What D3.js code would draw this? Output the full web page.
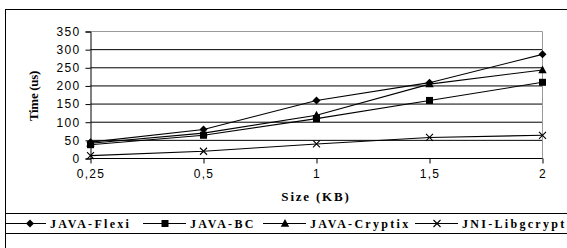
<!DOCTYPE html>
<html>
<head>
<meta charset="utf-8">
<script src="https://cdn.jsdelivr.net/npm/d3@7"></script>
<style>
    body { margin: 0; background: #fff; }
    svg { display: block; }
</style>
</head>
<body>
<svg id="chart" width="567" height="248"></svg>
<script>
// data
var sizes = ['0,25', '0,5', '1', '1,5', '2'];
var yTicks = [0, 50, 100, 150, 200, 250, 300, 350];
var flexi = [45, 80, 160, 209, 287];
var bc = [38, 64, 110, 160, 210];
var cryptix = [42, 70, 119, 205, 244];
var jni = [8, 20, 40, 58, 64];

var series = [
    { name: 'JAVA-Flexi', values: flexi, marker: 'diamond' },
    { name: 'JAVA-BC', values: bc, marker: 'square' },
    { name: 'JAVA-Cryptix', values: cryptix, marker: 'triangle' },
    { name: 'JNI-Libgcrypt', values: jni, marker: 'cross' }
];

var svg = d3.select('#chart');
var plot = { left: 90.5, right: 542.5, top: 31.5, bottom: 158.5 };

var x = d3.scalePoint().domain(sizes).range([plot.left, plot.right]);
var y = d3.scaleLinear().domain([0, 350]).range([plot.bottom, plot.top]);

// outer frame, cut by the picture on the right and bottom
svg.append('rect')
    .attr('x', 5.5).attr('y', 9.5)
    .attr('width', 600).attr('height', 300)
    .attr('fill', 'none').attr('stroke', '#000');

// gridlines
svg.append('g')
    .selectAll('line')
    .data(yTicks.filter(function (d) { return d > 0 && d < 350; }))
    .enter()
    .append('line')
    .attr('x1', plot.left).attr('x2', plot.right)
    .attr('y1', function (d) { return y(d); })
    .attr('y2', function (d) { return y(d); })
    .attr('stroke', '#000');

// plot area border (top and right are gray)
svg.append('path')
    .attr('d', 'M' + plot.left + ',' + plot.top + 'H' + plot.right + 'V' + plot.bottom)
    .attr('fill', 'none')
    .attr('stroke', '#999');

var yAxis = svg.append('g')
    .attr('transform', 'translate(' + plot.left + ',0)')
    .call(d3.axisLeft(y).tickValues(yTicks).tickSize(5).tickPadding(5));
var xAxis = svg.append('g')
    .attr('transform', 'translate(0,' + plot.bottom + ')')
    .call(d3.axisBottom(x).tickSize(5).tickPadding(6));

[yAxis, xAxis].forEach(function (ax) {
    ax.select('.domain').attr('stroke', '#000');
    ax.selectAll('.tick line').attr('stroke', '#000');
    ax.selectAll('text')
        .attr('fill', '#000')
        .style('font-family', '"Liberation Sans", Arial, sans-serif')
        .style('font-size', '12px')
        .style('letter-spacing', '1.3px');
});
xAxis.select('.domain').attr('d', 'M' + plot.left + ',0H' + plot.right);

// axis titles
svg.append('text')
    .text('Size (KB)')
    .attr('x', 316).attr('y', 201)
    .attr('text-anchor', 'middle')
    .style('font-family', '"Liberation Serif", "Times New Roman", serif')
    .style('font-weight', 'bold')
    .style('font-size', '13px')
    .style('letter-spacing', '1.8px');

svg.append('text')
    .text('Time (us)')
    .attr('transform', 'translate(38,96) rotate(-90)')
    .attr('text-anchor', 'middle')
    .style('font-family', '"Liberation Serif", "Times New Roman", serif')
    .style('font-weight', 'bold')
    .style('font-size', '13px')
    .style('letter-spacing', '-0.3px');

function markerPath(kind) {
    if (kind == 'diamond')
        return 'M0,-4L4,0L0,4L-4,0Z';
    if (kind == 'square')
        return 'M-3.5,-3.5H3.5V3.5H-3.5Z';
    if (kind == 'triangle')
        return 'M0,-4.5L4.2,3.2H-4.2Z';
    return 'M-3.5,-3.5L3.5,3.5M-3.5,3.5L3.5,-3.5';
}

function drawMarker(g, kind) {
    g.append('path')
        .attr('d', markerPath(kind))
        .attr('fill', kind == 'cross' ? 'none' : '#000')
        .attr('stroke', kind == 'cross' ? '#000' : 'none')
        .attr('stroke-width', 1.1);
}

var line = d3.line()
    .x(function (d, i) { return x(sizes[i]); })
    .y(function (d) { return y(d); });

var sg = svg.selectAll('g.series')
    .data(series)
    .enter()
    .append('g')
    .attr('class', 'series');

sg.append('path')
    .attr('d', function (d) { return line(d.values); })
    .attr('fill', 'none')
    .attr('stroke', '#000')
    .attr('stroke-width', 1.1);

sg.each(function (s) {
    var self = d3.select(this);
    s.values.forEach(function (v, i) {
        var m = self.append('g')
            .attr('transform', 'translate(' + x(sizes[i]) + ',' + y(v) + ')');
        drawMarker(m, s.marker);
    });
});

// legend box
svg.append('rect')
    .attr('x', 5.5).attr('y', 213.5)
    .attr('width', 600).attr('height', 20)
    .attr('fill', 'none').attr('stroke', '#000');

// start of each legend label
var legendText = [50, 190, 310, 462];
var lg = svg.selectAll('g.legend')
    .data(series)
    .enter()
    .append('g')
    .attr('class', 'legend')
    .attr('transform', function (d, i) { return 'translate(' + legendText[i] + ',223.5)'; });

lg.append('line')
    .attr('x1', function (d, i) { return i == 0 ? 5.5 - legendText[0] : -47; })
    .attr('x2', -4)
    .attr('stroke', '#000')
    .attr('stroke-width', 1.1);
lg.each(function (s, i) {
    var m = d3.select(this).append('g').attr('transform', 'translate(' + (i == 0 ? -20 : -25) + ',0)');
    drawMarker(m, s.marker);
});
lg.append('text')
    .text(function (d) { return d.name; })
    .attr('dy', '0.35em')
    .style('font-family', '"Liberation Serif", "Times New Roman", serif')
    .style('font-weight', 'bold')
    .style('font-size', '12px')
    .style('letter-spacing', '2.3px');
</script>
</body>
</html>
